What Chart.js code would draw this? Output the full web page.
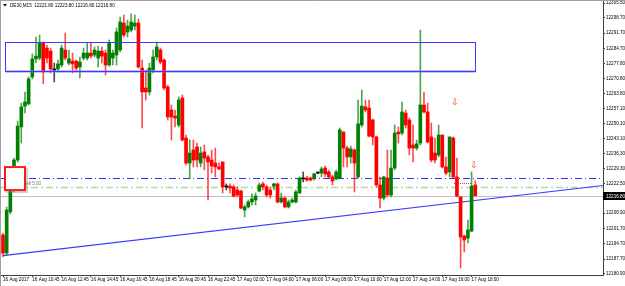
<!DOCTYPE html>
<html><head><meta charset="utf-8">
<script src="https://cdn.jsdelivr.net/npm/chart.js@4.4.1/dist/chart.umd.min.js"></script>
<style>html,body{margin:0;padding:0;background:#fff;overflow:hidden}canvas{display:block}</style>
</head><body>
<canvas id="c" width="625" height="286"></canvas>
<script>
// ---- DATA (DE30, M15) ----
const chartTitle = "DE30,M15  12221.80 12223.80 12216.80 12216.80";
const opens = [12198.8,12190.5,12209.4,12219.5,12233.3,12248.5,12258.1,12259.1,12271.5,12279.8,
12280.2,12287.1,12284.8,12283.4,12274.7,12275.2,12277.0,12283.9,12277.9,12278.8,
12278.8,12276.1,12280.2,12280.2,12282.5,12281.6,12280.2,12283.4,12282.5,12277.0,
12280.2,12281.6,12283.9,12296.3,12292.2,12293.1,12294.9,12296.3,12275.6,12266.4,
12264.6,12274.7,12280.7,12283.9,12279.3,12266.9,12256.3,12253.5,12249.4,12261.8,
12243.4,12231.9,12237.9,12239.3,12231.9,12237.0,12234.7,12233.3,12231.9,12230.1,
12232.4,12220.9,12221.3,12220.9,12219.5,12219.0,12210.3,12211.7,12214.0,12214.9,
12219.0,12222.3,12220.9,12219.5,12221.3,12222.3,12214.0,12215.8,12211.7,12214.0,
12214.0,12218.1,12224.6,12225.0,12225.0,12225.0,12227.3,12227.3,12229.6,12227.8,
12225.5,12224.6,12225.0,12246.2,12238.8,12234.7,12237.9,12225.5,12249.4,12257.7,
12257.2,12251.7,12243.9,12221.8,12215.8,12225.0,12217.2,12229.6,12246.2,12245.7,
12254.9,12251.7,12240.2,12238.8,12241.1,12258.6,12255.4,12243.9,12236.5,12235.6,
12244.8,12230.1,12227.8,12243.4,12225.5,12216.3,12198.3,12197.4,12200.6,12221.8];
const highs = [12199.7,12211.7,12221.8,12234.2,12251.2,12259.5,12264.6,12271.5,12282.1,12289.9,
12290.8,12287.6,12286.2,12284.8,12277.9,12279.3,12286.2,12291.7,12283.9,12282.5,
12279.3,12280.7,12284.8,12287.1,12287.1,12285.3,12285.7,12285.3,12283.9,12288.5,
12283.9,12294.0,12299.1,12300.0,12297.7,12300.5,12300.0,12298.2,12279.3,12274.7,
12277.9,12283.9,12287.6,12284.8,12279.8,12267.8,12258.6,12256.3,12262.3,12263.2,
12244.8,12242.5,12242.5,12241.1,12239.3,12240.2,12235.6,12237.9,12238.8,12231.9,
12232.4,12222.3,12222.3,12221.8,12220.9,12219.5,12212.6,12214.9,12217.7,12218.1,
12222.7,12223.2,12221.8,12220.9,12222.7,12222.7,12218.1,12216.3,12214.9,12215.8,
12219.5,12225.5,12227.8,12225.9,12225.5,12227.3,12227.8,12230.1,12230.5,12228.7,
12226.4,12228.7,12248.0,12246.2,12239.7,12239.7,12238.4,12260.9,12265.5,12260.9,
12260.9,12252.2,12244.3,12225.5,12225.9,12237.9,12237.9,12249.4,12248.5,12260.0,
12256.3,12252.6,12249.4,12242.5,12293.1,12264.6,12259.5,12250.3,12243.4,12249.4,
12244.8,12234.7,12243.9,12243.9,12234.2,12216.3,12198.8,12205.7,12227.8,12223.8];
const lows = [12188.7,12189.6,12208.5,12218.6,12232.4,12241.1,12254.9,12258.6,12270.6,12277.9,
12279.3,12268.3,12277.9,12273.3,12269.2,12273.8,12276.1,12279.3,12277.0,12273.3,
12273.8,12271.0,12279.3,12279.3,12280.2,12280.7,12276.1,12277.9,12272.4,12276.5,
12277.0,12277.0,12283.0,12289.9,12289.9,12292.2,12293.1,12275.6,12248.0,12260.9,
12263.2,12273.3,12279.3,12277.5,12265.5,12251.7,12242.5,12248.5,12248.5,12242.0,
12231.0,12224.6,12230.1,12230.1,12230.1,12228.7,12214.9,12227.3,12225.5,12228.7,
12218.1,12219.5,12218.1,12216.3,12216.3,12210.8,12207.1,12211.2,12212.6,12212.6,
12218.6,12219.5,12216.3,12215.8,12219.5,12213.5,12213.5,12211.2,12211.2,12213.5,
12213.5,12218.1,12223.2,12223.6,12223.6,12224.1,12226.9,12225.5,12225.5,12225.0,
12221.8,12224.1,12224.6,12230.1,12230.1,12231.9,12218.6,12225.0,12248.5,12255.4,
12243.9,12240.2,12220.9,12211.2,12214.9,12216.3,12216.3,12228.7,12241.1,12244.8,
12248.0,12235.6,12232.4,12237.9,12240.2,12254.9,12241.1,12232.4,12231.9,12234.7,
12229.6,12226.4,12225.5,12225.0,12216.3,12183.6,12191.0,12195.1,12200.2,12216.8];
const closes = [12190.5,12210.3,12220.0,12233.3,12248.9,12257.7,12260.0,12270.6,12279.8,12281.1,
12287.1,12273.8,12280.2,12275.2,12274.7,12277.5,12284.8,12280.2,12279.8,12277.5,
12275.6,12278.4,12282.5,12282.5,12281.1,12283.9,12283.4,12281.1,12277.0,12287.1,
12282.5,12292.2,12296.8,12290.8,12294.9,12296.8,12296.3,12276.1,12264.6,12264.6,
12275.6,12280.7,12285.3,12278.4,12266.4,12253.1,12253.1,12252.6,12260.9,12242.5,
12231.9,12236.5,12233.3,12233.3,12236.5,12234.2,12232.4,12230.5,12230.1,12229.2,
12220.9,12220.9,12220.4,12216.7,12217.2,12211.2,12211.7,12214.0,12215.4,12216.7,
12221.8,12220.9,12217.2,12217.2,12222.3,12214.0,12215.8,12211.7,12214.0,12214.9,
12218.6,12225.0,12224.6,12224.1,12224.1,12226.9,12227.3,12229.2,12226.9,12225.5,
12223.6,12227.8,12247.1,12238.8,12234.7,12238.4,12231.9,12249.9,12258.1,12256.3,
12244.3,12243.9,12221.8,12215.8,12225.5,12217.2,12229.6,12245.7,12245.3,12255.4,
12249.4,12238.8,12238.8,12240.7,12258.6,12255.4,12241.6,12233.3,12233.3,12244.8,
12230.1,12227.3,12243.9,12225.5,12216.7,12197.9,12196.5,12201.1,12221.3,12216.8];
const xTickLabels = ["16 Aug 2017","16 Aug 10:45","16 Aug 12:45","16 Aug 14:45","16 Aug 16:45",
"16 Aug 18:45","16 Aug 20:45","16 Aug 22:45","17 Aug 02:00","17 Aug 04:00","17 Aug 06:00",
"17 Aug 08:00","17 Aug 10:00","17 Aug 12:00","17 Aug 14:00","17 Aug 16:00","17 Aug 18:00"];
const barsPerTimeLabel = 8;
const yTickValues = [12305.5,12298.7,12291.7,12284.7,12277.8,12270.8,12263.8,12257.1,12250.1,
12243.1,12236.3,12229.3,12222.5,12208.9,12201.7,12194.7,12187.7,12180.9];
const bidPrice = 12216.8;
const blueLevel = 12224.9;
const sellLevel = 12220.65;
const sellLabel = "sell 5.00";
// chart objects in (bar index, price)
const zoneRect = {x0: 0.55, x1: 128.95, top: 12287.8, bottom: 12274.2};
const trendLine = {x0: 0, p0: 12189.3, x1: 130, p1: 12214.9};
const redBox = {x0: 0.27, x1: 6.28, top: 12230.5, bottom: 12219.0};
const arrowMarks = [{x: 123.5, p: 12259.5}, {x: 128.7, p: 12230.5}];
const redDotted = {x0: 123.2, x1: 128.1, p: 12222.7};

// ---- CHART ----
const GREEN = '#008000', RED = '#ff0000';
const idx = opens.map((_, i) => i);
const colorOf = i => closes[i] > opens[i] ? GREEN : (closes[i] < opens[i] ? RED : '#000000');
const wickColorOf = i => closes[i] > opens[i] ? 'rgba(0,128,0,0.7)' : (closes[i] < opens[i] ? 'rgba(255,0,0,0.7)' : 'rgba(0,0,0,0.7)');
const FONT = "'Liberation Sans', Arial, sans-serif";
const FS = 4.6;

const objectsPlugin = {
  id: 'mt4objects',
  beforeDatasetsDraw(chart) {
    const {ctx, chartArea: a, scales: {x, y}} = chart;
    ctx.save();
    ctx.beginPath(); ctx.rect(a.left, a.top, a.right - a.left, a.bottom - a.top); ctx.clip();
    // bid line
    ctx.strokeStyle = '#c0c0c0'; ctx.lineWidth = 1; ctx.setLineDash([]);
    let yy = Math.round(y.getPixelForValue(bidPrice)) + 0.5;
    ctx.beginPath(); ctx.moveTo(a.left, yy); ctx.lineTo(a.right, yy); ctx.stroke();
    // green sell level
    ctx.strokeStyle = 'rgba(150,205,140,0.75)'; ctx.lineWidth = 1.6; ctx.setLineDash([7, 3, 2, 3]);
    yy = y.getPixelForValue(sellLevel);
    ctx.beginPath(); ctx.moveTo(a.left, yy); ctx.lineTo(a.right, yy); ctx.stroke();
    // blue level
    ctx.strokeStyle = '#3535ff'; ctx.lineWidth = 1; ctx.setLineDash([7, 3, 1, 3]);
    yy = Math.round(y.getPixelForValue(blueLevel)) + 0.5;
    ctx.beginPath(); ctx.moveTo(a.left, yy); ctx.lineTo(a.right, yy); ctx.stroke();
    // trend line (ray)
    ctx.setLineDash([]); ctx.strokeStyle = '#3a3aff'; ctx.lineWidth = 1.2;
    const ax = x.getPixelForValue(trendLine.x0), ay = y.getPixelForValue(trendLine.p0);
    const bx = x.getPixelForValue(trendLine.x1), by = y.getPixelForValue(trendLine.p1);
    const k = (by - ay) / (bx - ax);
    ctx.beginPath(); ctx.moveTo(ax, ay); ctx.lineTo(a.right, ay + k * (a.right - ax)); ctx.stroke();
    // red dotted segment
    ctx.strokeStyle = '#ff3030'; ctx.lineWidth = 1; ctx.setLineDash([1, 1]);
    yy = Math.round(y.getPixelForValue(redDotted.p)) + 0.5;
    ctx.beginPath(); ctx.moveTo(x.getPixelForValue(redDotted.x0), yy); ctx.lineTo(x.getPixelForValue(redDotted.x1), yy); ctx.stroke();
    ctx.restore();
  },
  afterDatasetsDraw(chart) {
    const {ctx, chartArea: a, scales: {x, y}} = chart;
    ctx.save();
    ctx.beginPath(); ctx.rect(a.left, a.top, a.right - a.left, a.bottom - a.top); ctx.clip();
    // zone rectangle
    const rx0 = Math.round(x.getPixelForValue(zoneRect.x0)) + 0.5, rx1 = Math.round(x.getPixelForValue(zoneRect.x1)) + 0.5;
    const ry0 = Math.round(y.getPixelForValue(zoneRect.top)) + 0.5, ry1 = Math.round(y.getPixelForValue(zoneRect.bottom)) + 0.5;
    ctx.setLineDash([]);
    ctx.strokeStyle = 'rgba(120,120,255,0.6)'; ctx.lineWidth = 2.5;
    ctx.beginPath(); ctx.moveTo(rx0, ry1); ctx.lineTo(rx1, ry1); ctx.stroke();
    ctx.strokeStyle = '#3a3aff'; ctx.lineWidth = 1;
    ctx.strokeRect(rx0, ry0, rx1 - rx0, ry1 - ry0);
    // sell label
    ctx.fillStyle = '#707070'; ctx.font = FS + 'px ' + FONT; ctx.textAlign = 'right'; ctx.textBaseline = 'bottom';
    ctx.fillText(sellLabel, x.getPixelForValue(10.4), y.getPixelForValue(sellLevel) - 1);
    // red box
    const bx0 = x.getPixelForValue(redBox.x0), bx1 = x.getPixelForValue(redBox.x1);
    const by0 = y.getPixelForValue(redBox.top), by1 = y.getPixelForValue(redBox.bottom);
    ctx.fillStyle = 'rgba(120,120,120,0.35)'; ctx.fillRect(bx0 + 2, by0 + 2, bx1 - bx0, by1 - by0);
    ctx.fillStyle = '#ffffff'; ctx.fillRect(bx0, by0, bx1 - bx0, by1 - by0);
    ctx.strokeStyle = '#ff1a1a'; ctx.lineWidth = 2; ctx.strokeRect(bx0 + 1, by0 + 1, bx1 - bx0 - 2, by1 - by0 - 2);
    // arrows
    ctx.fillStyle = '#ff3a1a'; ctx.font = '9px "DejaVu Sans"'; ctx.textAlign = 'center'; ctx.textBaseline = 'middle';
    arrowMarks.forEach(m => ctx.fillText('\u21E9', x.getPixelForValue(m.x), y.getPixelForValue(m.p)));
    ctx.restore();
  },
  afterDraw(chart) {
    const {ctx, chartArea: a, scales: {y}} = chart;
    ctx.save();
    // window frame
    ctx.strokeStyle = '#a0a0a0'; ctx.lineWidth = 1;
    ctx.beginPath(); ctx.moveTo(0, 0.5); ctx.lineTo(625, 0.5); ctx.moveTo(0.5, 0); ctx.lineTo(0.5, 286); ctx.stroke();
    // title
    ctx.fillStyle = '#000';
    ctx.beginPath(); ctx.moveTo(3, 4); ctx.lineTo(7, 4); ctx.lineTo(5, 6.5); ctx.closePath(); ctx.fill();
    ctx.font = FS + 'px ' + FONT; ctx.textAlign = 'left'; ctx.textBaseline = 'middle';
    ctx.fillText(chartTitle, 10, 5.5);
    // bid price box on axis
    const py = Math.round(y.getPixelForValue(bidPrice));
    ctx.fillStyle = '#000'; ctx.fillRect(a.right, py - 4, 625 - a.right, 8);
    ctx.fillStyle = '#fff'; ctx.textBaseline = 'middle';
    ctx.fillText(bidPrice.toFixed(2), a.right + 3, py + 0.5);
    ctx.restore();
  }
};

new Chart(document.getElementById('c'), {
  type: 'bar',
  data: {
    datasets: [
      { label: 'wick', data: idx.map(i => ({x: i, y: [lows[i], highs[i]]})),
        backgroundColor: idx.map(wickColorOf), maxBarThickness: 1, barPercentage: 1, categoryPercentage: 1,
        grouped: false, order: 2, borderWidth: 0 },
      { label: 'body', data: idx.map(i => ({x: i, y: [opens[i], closes[i]]})),
        backgroundColor: idx.map(colorOf), maxBarThickness: 3, barPercentage: 1, categoryPercentage: 1,
        minBarLength: 1, grouped: false, order: 1, borderWidth: 0 }
    ]
  },
  options: {
    responsive: false, animation: false, devicePixelRatio: 1,
    layout: { padding: { left: 1, top: 1, right: 0, bottom: 0 } },
    plugins: { legend: { display: false }, tooltip: { enabled: false } },
    scales: {
      x: {
        type: 'linear', offset: false, min: -0.55, max: 163.9,
        afterBuildTicks: s => { s.ticks = xTickLabels.map((_, i) => ({ value: i * barsPerTimeLabel })); },
        afterFit: s => { s.height = 11; s.paddingLeft = 0; s.paddingRight = 0; },
        grid: { display: true, drawOnChartArea: false, drawTicks: true, tickLength: 2, color: '#404040', offset: false },
        border: { display: true, color: '#404040', width: 1 },
        ticks: { autoSkip: false, maxRotation: 0, align: 'start', padding: 0, color: '#000',
          font: { family: FONT, size: FS },
          callback: v => xTickLabels[v / barsPerTimeLabel] }
      },
      y: {
        position: 'right', min: 12180.4, max: 12306.44,
        afterBuildTicks: s => { s.ticks = yTickValues.map(v => ({ value: v })); },
        afterFit: s => { s.width = 22; s.paddingTop = 0; s.paddingBottom = 0; },
        grid: { display: true, drawOnChartArea: false, drawTicks: true, tickLength: 2, color: '#404040' },
        border: { display: true, color: '#404040', width: 1 },
        ticks: { padding: 1, color: '#000', font: { family: FONT, size: FS },
          callback: v => Number(v).toFixed(2) }
      }
    }
  },
  plugins: [objectsPlugin]
});
</script>
</body></html>
